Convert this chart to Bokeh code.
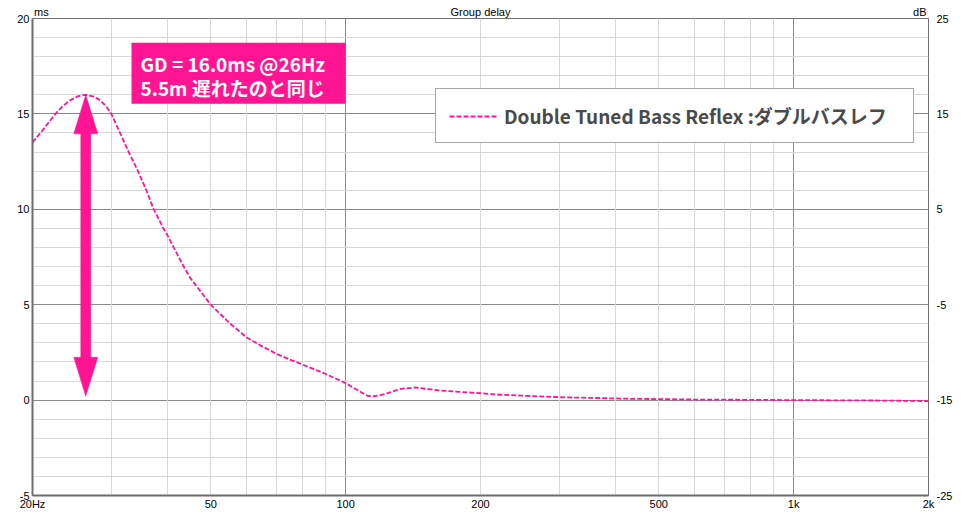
import math
from bokeh.plotting import figure
from bokeh.models import (Range1d, LinearAxis, LogAxis, FixedTicker, Grid, BoxAnnotation,
                          Label, Legend, LegendItem)
from bokeh.embed import file_html
from bokeh.resources import INLINE

# ---------------- data ----------------
freq_hz = [20, 21, 22.5, 23.4, 24.3, 25.3, 26.3, 27.3, 28.3, 29.2, 30, 32.8, 34.4,
           35.9, 37.3, 39.1, 40, 43.5, 45, 50, 55, 60, 65, 70, 75, 80, 85, 90, 95,
           100, 106.8, 111.6, 114.5, 118, 123, 132.6, 143, 162.7, 200, 222, 300,
           432, 600, 1000, 1500, 2000]
group_delay_ms = [13.5, 14.1, 15.0, 15.42, 15.72, 15.93, 16.0, 15.92, 15.72, 15.4,
                  15.0, 13.0, 12.0, 11.0, 10.0, 9.05, 8.65, 7.0, 6.4, 5.0, 4.05,
                  3.3, 2.83, 2.43, 2.13, 1.87, 1.62, 1.38, 1.13, 0.89, 0.5, 0.24,
                  0.19, 0.23, 0.33, 0.59, 0.66, 0.5, 0.36, 0.28, 0.15, 0.07, 0.03,
                  0.0, -0.02, -0.05]

x_tick_values = [20, 50, 100, 200, 500, 1000, 2000]
x_tick_labels = ["20Hz", "50", "100", "200", "500", "1k", "2k"]
y_tick_values = [-5, 0, 5, 10, 15, 20]
y_tick_labels = ["-5", "0", "5", "10", "15", "20"]
db_tick_values = [-25, -15, -5, 5, 15, 25]
db_tick_labels = ["-25", "-15", "-5", "5", "15", "25"]
x_major_grid = [100, 1000]
x_minor_grid = [30, 40, 50, 60, 70, 80, 90, 200, 300, 400, 500, 600, 700, 800, 900]
y_minor_grid = [-4, -3, -2, -1, 1, 2, 3, 4, 6, 7, 8, 9, 11, 12, 13, 14, 16, 17, 18, 19]

# texts above the frame: (x position in Hz, text)
top_text_pos = [20.94, 200, 1912]
top_text = ["ms", "Group delay", "dB"]

peak_freq = 26.3
peak_gd = 16.0
arrow_bottom_gd = 0.2
series_name = "Double Tuned Bass Reflex :ダブルバスレフ"
note_line1 = "GD = 16.0ms @26Hz"
note_line2 = "5.5m 遅れたのと同じ"

PINK = "#ff1493"
W, H = 961, 513
BL, BR, BT, BB = 32, 33, 18, 18
FW, FH = W - BL - BR, H - BT - BB
X0, X1, Y0, Y1 = 20, 2000, -5, 20

p = figure(width=W, height=H, x_axis_type="log", output_backend="svg",
           toolbar_location=None, x_range=Range1d(X0, X1), y_range=Range1d(Y0, Y1),
           min_border_left=BL, min_border_right=BR, min_border_top=BT,
           min_border_bottom=BB)
p.background_fill_color = "white"
p.border_fill_color = "white"
p.outline_line_color = "#707070"
p.outline_line_width = 1

# pixel -> data helpers for decorations
ux = math.log10(X1 / X0) / FW
uy = (Y1 - Y0) / FH

# grids
p.xgrid.ticker = FixedTicker(ticks=x_major_grid)
p.xgrid.grid_line_color = "#8a8a8a"
p.ygrid.ticker = FixedTicker(ticks=y_tick_values)
p.ygrid.grid_line_color = "#8a8a8a"
p.add_layout(Grid(dimension=0, ticker=FixedTicker(ticks=x_minor_grid),
                  grid_line_color="#d9d9d9", level="underlay"))
p.add_layout(Grid(dimension=1, ticker=FixedTicker(ticks=y_minor_grid),
                  grid_line_color="#d9d9d9", level="underlay"))
p.xgrid.level = "underlay"
p.ygrid.level = "underlay"

# axes
FONT = "Liberation Sans"
xa = p.xaxis[0]
xa.ticker = FixedTicker(ticks=x_tick_values)
xa.major_label_overrides = {v: s for v, s in zip(x_tick_values, x_tick_labels)}
ya = p.yaxis[0]
ya.ticker = FixedTicker(ticks=y_tick_values)
ya.major_label_overrides = {v: s for v, s in zip(y_tick_values, y_tick_labels)}
p.extra_y_ranges = {"db": Range1d(-25, 25)}
ra = LinearAxis(y_range_name="db", ticker=FixedTicker(ticks=db_tick_values))
ra.major_label_overrides = {v: s for v, s in zip(db_tick_values, db_tick_labels)}
p.add_layout(ra, "right")
ta = LogAxis(ticker=FixedTicker(ticks=top_text_pos))
ta.major_label_overrides = {v: s for v, s in zip(top_text_pos, top_text)}
p.add_layout(ta, "above")
for ax, so in ((xa, 2), (ya, 3), (ra, 8), (ta, 1)):
    ax.major_tick_line_color = None
    ax.minor_tick_line_color = None
    ax.major_tick_out = 0
    ax.major_tick_in = 0
    ax.minor_tick_out = 0
    ax.minor_tick_in = 0
    ax.major_label_standoff = so
    ax.major_label_text_font = FONT
    ax.major_label_text_font_size = "11px"
    ax.major_label_text_color = "#000000"
xa.axis_line_color = "#6d6d6d"
xa.axis_line_width = 2
ya.axis_line_color = "#6d6d6d"
ya.axis_line_width = 2
ra.axis_line_color = None
ta.axis_line_color = None

# curve
line = p.line(freq_hz, group_delay_ms, line_color=PINK, line_width=1.8,
              line_dash="5 2")

# double arrow at the peak
hl, hw, sw = 39, 12, 5
def fx(px):
    return peak_freq * 10 ** (px * ux)
yt, yb = peak_gd, arrow_bottom_gd
ax_x = [fx(0), fx(hw), fx(sw), fx(sw), fx(hw), fx(0), fx(-hw), fx(-sw), fx(-sw), fx(-hw)]
ax_y = [yt, yt - hl * uy, yt - hl * uy, yb + hl * uy, yb + hl * uy, yb,
        yb + hl * uy, yb + hl * uy, yt - hl * uy, yt - hl * uy]
p.patch(ax_x, ax_y, fill_color=PINK, line_color=PINK, line_width=0.5)

# annotation box
box_left = X0 * 10 ** (99 * ux)
p.add_layout(BoxAnnotation(left=box_left, right=100, top=18.73, bottom=15.53,
                           fill_color=PINK, fill_alpha=1.0, line_color=None,
                           level="annotation"))
txt_x = X0 * 10 ** (108 * ux)
JP = "Noto Sans CJK JP"
for t, yv in ((note_line1, 17.64), (note_line2, 16.40)):
    p.add_layout(Label(x=txt_x, y=yv, text=t, text_color="white", text_font=JP,
                       text_font_style="bold", text_font_size="19px",
                       text_baseline="middle", text_align="left"))

# legend
legend = Legend(items=[LegendItem(label=series_name, renderers=[line])],
                location=(403, 352), padding=13, glyph_width=49, glyph_height=20,
                label_standoff=6, label_width=396, label_height=27,
                label_text_font=JP, label_text_font_style="bold",
                label_text_font_size="19px", label_text_color="#4a4a4a",
                border_line_color="#505050", border_line_width=1.5,
                background_fill_color="white", background_fill_alpha=1.0,
                margin=0)
p.add_layout(legend, "center")

open("out.html", "w").write(file_html(p, INLINE))
